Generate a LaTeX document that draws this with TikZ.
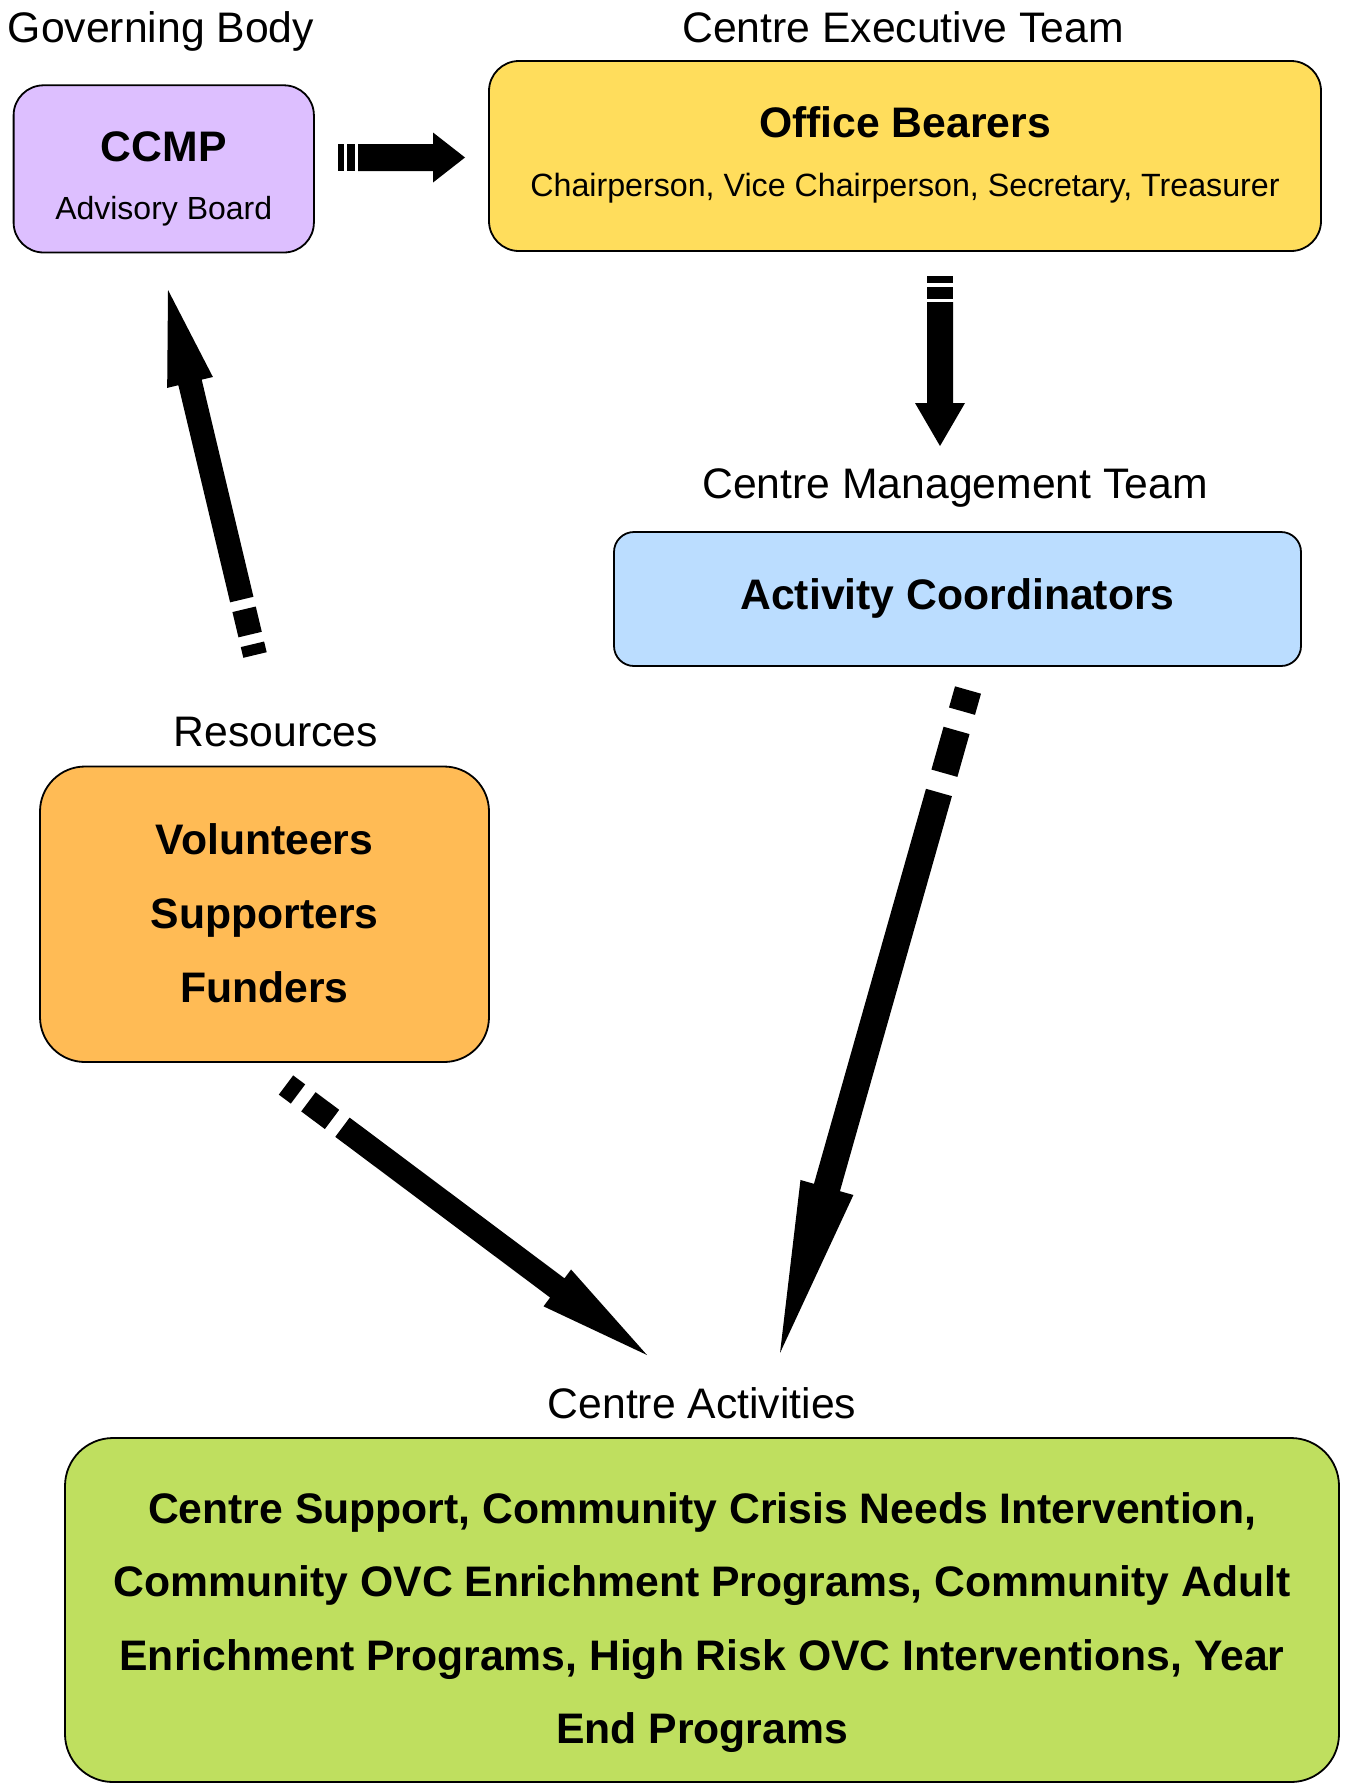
\documentclass[tikz,border=0pt]{standalone}
\usepackage{fontspec}
\setmainfont{Liberation Sans}
\definecolor{ccmpcol}{HTML}{DDBFFF}
\definecolor{officecol}{HTML}{FFDD5C}
\definecolor{actcol}{HTML}{BBDDFF}
\definecolor{rescol}{HTML}{FFBB55}
\definecolor{greencol}{HTML}{BFDF5F}
\newcommand\stripearrow[8]{%
  \pgfpointdiff{\pgfpointanchor{#1}{center}}{\pgfpointanchor{#2}{center}}%
  \pgfgetlastxy{\sadx}{\sady}%
  \pgfmathsetmacro\salen{2*veclen(\sadx,\sady)}%
  \pgfmathsetmacro\saang{atan2(\sady,\sadx)}%
  \begin{scope}[shift={(#1)}, rotate=\saang, x=0.5pt, y=0.5pt]
    \fill (0,-#3) rectangle (#6,#3);
    \fill ({#6+#7},-#3) rectangle ({#6+#7+#8},#3);
    \fill ({#6+2*#7+#8},-#3) -- ({\salen-#5},-#3) -- ({\salen-#5},-#4) -- (\salen,0)
      -- ({\salen-#5},#4) -- ({\salen-#5},#3) -- ({#6+2*#7+#8},#3) -- cycle;
  \end{scope}}
\tikzset{
  box/.style={draw=black, line width=0.9pt, inner sep=0pt},
  lbl/.style={anchor=base, inner sep=0pt, font=\fontsize{21.35pt}{25pt}\selectfont},
  ttl/.style={anchor=base, inner sep=0pt, font=\fontsize{21.35pt}{25pt}\selectfont\bfseries},
  sml/.style={anchor=base, inner sep=0pt, font=\fontsize{16pt}{19pt}\selectfont},
}
\begin{document}
\begin{tikzpicture}[x=0.5pt, y=-0.5pt]
\useasboundingbox (0,0) rectangle (1351,1783);
% boxes
\node[box, fill=ccmpcol, rounded corners=15pt, minimum width=150.15pt, minimum height=83.6pt] (ccmp) at (163.75,168.9) {};
\node[box, fill=officecol, rounded corners=15pt, minimum width=416pt, minimum height=95pt] (office) at (905,156) {};
\node[box, fill=actcol, rounded corners=10pt, minimum width=343.5pt, minimum height=67pt] (act) at (957.5,599) {};
\node[box, fill=rescol, rounded corners=22.5pt, minimum width=224.5pt, minimum height=147.75pt] (res) at (264.5,914.25) {};
\node[box, fill=greencol, rounded corners=24pt, minimum width=637pt, minimum height=172pt] (centre) at (702,1610) {};
% labels
\node[lbl] (lgov) at (161,42.6) {Governing Body};
\node[lbl] (lexec) at (903,42.6) {Centre Executive Team};
\node[lbl] (lmgmt) at (955,498.6) {Centre Management Team};
\node[lbl] (lres) at (276,746.5) {Resources};
\node[lbl] (lcentre) at (702,1418.6) {Centre Activities};
% texts
\node[ttl] (tccmp) at (163.75,161) {CCMP};
\node[sml] (tadv) at (163.75,219) {Advisory Board};
\node[ttl] (toffice) at (905,137.3) {Office Bearers};
\node[sml, font=\fontsize{16.1pt}{19pt}\selectfont] (tchair) at (905,196) {Chairperson, Vice Chairperson, Secretary, Treasurer};
\node[ttl] (tact) at (957.5,609) {Activity Coordinators};
\node[ttl] (tvol) at (264.5,854.6) {Volunteers};
\node[ttl] (tsup) at (264.5,928.5) {Supporters};
\node[ttl] (tfun) at (264.5,1002.4) {Funders};
\node[ttl] (tc1) at (702,1523) {Centre Support, Community Crisis Needs Intervention,};
\node[ttl] (tc2) at (702,1596.5) {Community OVC Enrichment Programs, Community Adult};
\node[ttl] (tc3) at (702,1670) {Enrichment Programs, High Risk OVC Interventions, Year};
\node[ttl] (tc4) at (702,1743.5) {End Programs};
% arrow end points
\coordinate (a1t) at (338,157.5);  \coordinate (a1h) at (465,157.5);
\coordinate (a2t) at (940,276);    \coordinate (a2h) at (940,446);
\coordinate (a3t) at (255,655);    \coordinate (a3h) at (168,290);
\coordinate (a4t) at (286,1085);   \coordinate (a4h) at (647,1355);
\coordinate (a5t) at (968,690);    \coordinate (a5h) at (780,1353);
\stripearrow{a1t}{a1h}{13.5}{25}{32}{6}{3}{8}
\stripearrow{a2t}{a2h}{13}{25}{43}{7}{3.5}{12}
\stripearrow{a3t}{a3h}{12}{23.5}{95}{11}{10}{26}
\stripearrow{a4t}{a4h}{12}{23}{112}{15}{13}{29.5}
\stripearrow{a5t}{a5h}{13.5}{27.5}{172}{22}{20}{44.5}
\end{tikzpicture}
\end{document}
